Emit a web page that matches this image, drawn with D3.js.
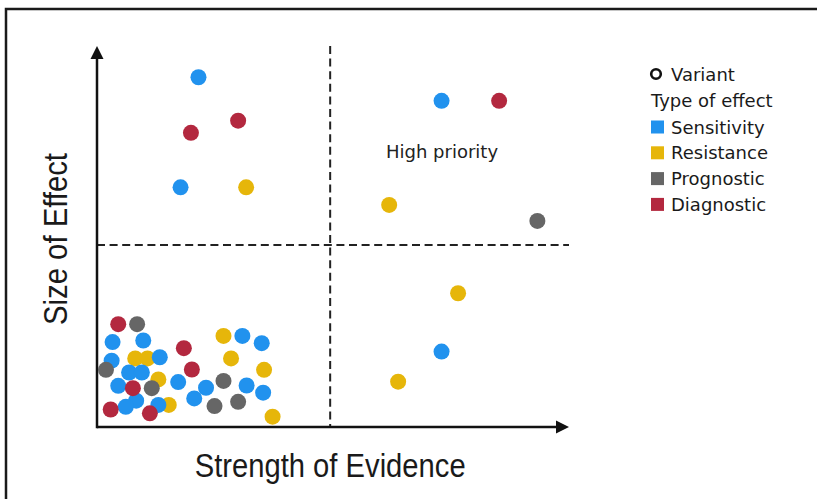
<!DOCTYPE html>
<html>
<head>
<meta charset="utf-8">
<script src="https://cdn.jsdelivr.net/npm/d3@7"></script>
<style>
  html, body { margin: 0; padding: 0; background: #fff; }
  svg { display: block; }
</style>
</head>
<body>
<svg id="chart" width="817" height="499"></svg>
<script>
// ---- Data (strength of evidence 0-10, size of effect 0-10) ----
const categories = ["Sensitivity", "Resistance", "Prognostic", "Diagnostic"];
const categoryColors = ["#2192ee", "#e6b60a", "#666666", "#b3283f"];

const sensitivityX = [2.15, 1.77, 7.30, 7.30, 0.33, 0.98, 3.08, 3.49, 1.33, 0.31, 0.68, 0.95, 1.72, 0.45, 2.31, 3.17, 3.52, 2.06, 0.83, 0.61, 1.30];
const sensitivityY = [9.18, 6.29, 8.56, 1.98, 2.23, 2.27, 2.39, 2.20, 1.83, 1.74, 1.43, 1.43, 1.18, 1.08, 1.03, 1.09, 0.90, 0.75, 0.69, 0.53, 0.58];

const resistanceX = [3.16, 6.19, 7.65, 6.38, 2.68, 0.81, 1.07, 2.84, 3.54, 1.30, 1.52, 3.72];
const resistanceY = [6.29, 5.83, 3.51, 1.19, 2.39, 1.80, 1.80, 1.80, 1.50, 1.25, 0.58, 0.27];

const prognosticX = [9.33, 0.85, 0.19, 2.68, 1.16, 2.49, 2.99];
const prognosticY = [5.41, 2.70, 1.50, 1.21, 1.02, 0.55, 0.66];

const diagnosticX = [2.99, 1.99, 8.52, 0.45, 1.84, 2.01, 0.76, 0.29, 1.12];
const diagnosticY = [8.04, 7.72, 8.56, 2.70, 2.07, 1.51, 1.02, 0.46, 0.36];

const evidenceThreshold = 4.94;
const effectThreshold = 4.78;

const xTitle = "Strength of Evidence";
const yTitle = "Size of Effect";
const quadrantLabel = "High priority";
const legendVariant = "Variant";
const legendTypeTitle = "Type of effect";

// ---- Build ----
const svg = d3.select("#chart");
const x = d3.scaleLinear().domain([0, 10]).range([97, 569]);
const y = d3.scaleLinear().domain([0, 10]).range([427, 46]);
const color = d3.scaleOrdinal().domain(categories).range(categoryColors);

// frame
svg.append("path")
  .attr("d", "M6,499 L6,9 L817,9")
  .attr("fill", "none").attr("stroke", "#1a1a1a").attr("stroke-width", 2.5);

// dashed quadrant lines
svg.append("line")
  .attr("x1", x(evidenceThreshold)).attr("x2", x(evidenceThreshold))
  .attr("y1", y.range()[1]).attr("y2", y.range()[0])
  .attr("stroke", "#222").attr("stroke-width", 2).attr("stroke-dasharray", "8,4.6");
svg.append("line")
  .attr("x1", x.range()[0]).attr("x2", x.range()[1])
  .attr("y1", y(effectThreshold)).attr("y2", y(effectThreshold))
  .attr("stroke", "#222").attr("stroke-width", 2).attr("stroke-dasharray", "8,4.6");

// axes with arrows
const x0 = x.range()[0], x1 = x.range()[1], y0 = y.range()[0], y1 = y.range()[1];
svg.append("line").attr("x1", x0).attr("x2", x1 - 8).attr("y1", y0).attr("y2", y0)
  .attr("stroke", "#111").attr("stroke-width", 2.5);
svg.append("line").attr("x1", x0).attr("x2", x0).attr("y1", y0 + 1.2).attr("y2", y1 + 8)
  .attr("stroke", "#111").attr("stroke-width", 2.5);
svg.append("path").attr("d", `M${x1},${y0} L${x1 - 13},${y0 - 6.5} L${x1 - 13},${y0 + 6.5} Z`).attr("fill", "#111");
svg.append("path").attr("d", `M${x0},${y1} L${x0 - 6.5},${y1 + 13} L${x0 + 6.5},${y1 + 13} Z`).attr("fill", "#111");

// points
const series = [
  { name: "Resistance", xs: resistanceX, ys: resistanceY },
  { name: "Sensitivity", xs: sensitivityX, ys: sensitivityY },
  { name: "Prognostic", xs: prognosticX, ys: prognosticY },
  { name: "Diagnostic", xs: diagnosticX, ys: diagnosticY }
];
series.forEach(s => {
  const pts = s.xs.map((v, i) => ({ x: v, y: s.ys[i] }));
  svg.append("g").selectAll("circle").data(pts).join("circle")
    .attr("cx", d => x(d.x)).attr("cy", d => y(d.y)).attr("r", 8)
    .attr("fill", color(s.name));
});

// quadrant label
svg.append("text").attr("x", 386).attr("y", 158)
  .attr("font-family", "DejaVu Sans, sans-serif").attr("font-size", 18)
  .attr("fill", "#222").text(quadrantLabel);

// axis titles (condensed look)
const narrow = "'Liberation Sans Narrow', 'Liberation Sans', Arial, sans-serif";
svg.append("text").attr("x", x(evidenceThreshold)).attr("y", 477)
  .attr("text-anchor", "middle").attr("font-family", narrow).attr("font-size", 34)
  .attr("textLength", 271).attr("lengthAdjust", "spacingAndGlyphs")
  .attr("fill", "#1a1a1a").text(xTitle);
svg.append("text").attr("transform", "translate(67,239) rotate(-90)")
  .attr("text-anchor", "middle").attr("font-family", narrow).attr("font-size", 34)
  .attr("textLength", 172).attr("lengthAdjust", "spacingAndGlyphs")
  .attr("fill", "#1a1a1a").text(yTitle);

// legend
const lg = svg.append("g").attr("font-family", "DejaVu Sans, sans-serif").attr("font-size", 18).attr("fill", "#1a1a1a");
lg.append("circle").attr("cx", 656).attr("cy", 74).attr("r", 4.8)
  .attr("fill", "none").attr("stroke", "#111").attr("stroke-width", 2.6);
lg.append("text").attr("x", 671).attr("y", 80.5).text(legendVariant);
lg.append("text").attr("x", 651).attr("y", 107).text(legendTypeTitle);
categories.forEach((c, i) => {
  const cy = 127 + i * 25.8;
  lg.append("rect").attr("x", 651).attr("y", cy - 6.5).attr("width", 13).attr("height", 13).attr("fill", color(c));
  lg.append("text").attr("x", 671).attr("y", cy + 6.5).text(c);
});
</script>
</body>
</html>
